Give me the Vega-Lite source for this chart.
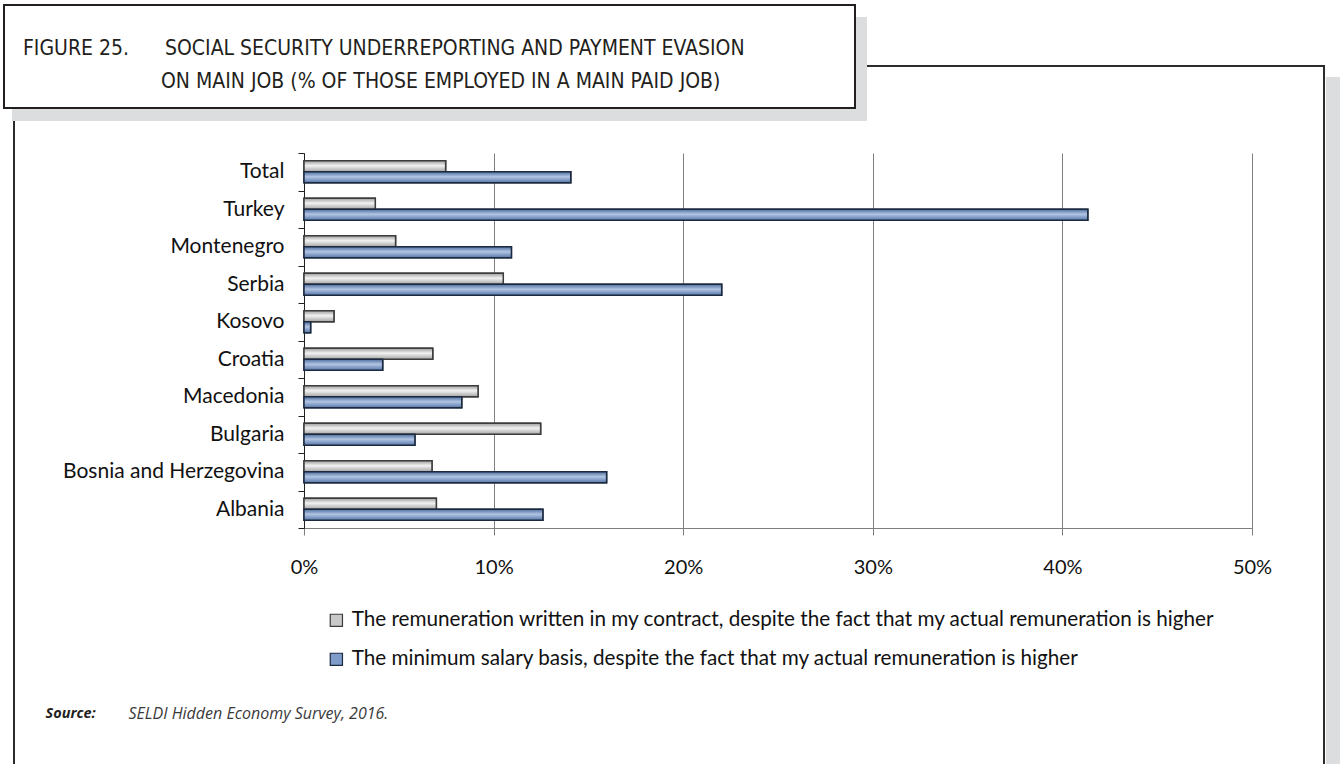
{
  "$schema": "https://vega.github.io/schema/vega-lite/v6.json",
  "width": 948,
  "height": 375,
  "autosize": {"type": "none"},
  "padding": {"left": 304, "top": 153, "right": 88, "bottom": 236},
  "background": "white",
  "title": {
    "text": [
      "FIGURE 25.\u00a0\u00a0\u00a0\u00a0\u00a0\u00a0SOCIAL SECURITY UNDERREPORTING AND PAYMENT EVASION",
      "\u200b\u00a0\u00a0\u00a0\u00a0\u00a0\u00a0\u00a0\u00a0\u00a0\u00a0\u00a0\u00a0\u00a0\u00a0\u00a0\u00a0\u00a0\u00a0\u00a0\u00a0\u00a0\u00a0\u00a0ON MAIN JOB (% OF THOSE EMPLOYED IN A MAIN PAID JOB)"
    ],
    "anchor": "start",
    "frame": "group",
    "dx": -281,
    "offset": -87,
    "lineHeight": 33,
    "font": "Liberation Sans Narrow, DejaVu Sans Condensed, Liberation Sans",
    "fontSize": 21,
    "fontWeight": "normal",
    "color": "#231f20",
    "zindex": 5
  },
  "data": {
    "values": [
      {"country": "Total", "series": "The remuneration written in my contract, despite the fact that my actual remuneration is higher", "value": 7.47},
      {"country": "Total", "series": "The minimum salary basis, despite the fact that my actual remuneration is higher", "value": 14.07},
      {"country": "Turkey", "series": "The remuneration written in my contract, despite the fact that my actual remuneration is higher", "value": 3.76},
      {"country": "Turkey", "series": "The minimum salary basis, despite the fact that my actual remuneration is higher", "value": 41.34},
      {"country": "Montenegro", "series": "The remuneration written in my contract, despite the fact that my actual remuneration is higher", "value": 4.83},
      {"country": "Montenegro", "series": "The minimum salary basis, despite the fact that my actual remuneration is higher", "value": 10.94},
      {"country": "Serbia", "series": "The remuneration written in my contract, despite the fact that my actual remuneration is higher", "value": 10.51},
      {"country": "Serbia", "series": "The minimum salary basis, despite the fact that my actual remuneration is higher", "value": 22.03},
      {"country": "Kosovo", "series": "The remuneration written in my contract, despite the fact that my actual remuneration is higher", "value": 1.58},
      {"country": "Kosovo", "series": "The minimum salary basis, despite the fact that my actual remuneration is higher", "value": 0.35},
      {"country": "Croatia", "series": "The remuneration written in my contract, despite the fact that my actual remuneration is higher", "value": 6.79},
      {"country": "Croatia", "series": "The minimum salary basis, despite the fact that my actual remuneration is higher", "value": 4.15},
      {"country": "Macedonia", "series": "The remuneration written in my contract, despite the fact that my actual remuneration is higher", "value": 9.18},
      {"country": "Macedonia", "series": "The minimum salary basis, despite the fact that my actual remuneration is higher", "value": 8.32},
      {"country": "Bulgaria", "series": "The remuneration written in my contract, despite the fact that my actual remuneration is higher", "value": 12.48},
      {"country": "Bulgaria", "series": "The minimum salary basis, despite the fact that my actual remuneration is higher", "value": 5.85},
      {"country": "Bosnia and Herzegovina", "series": "The remuneration written in my contract, despite the fact that my actual remuneration is higher", "value": 6.75},
      {"country": "Bosnia and Herzegovina", "series": "The minimum salary basis, despite the fact that my actual remuneration is higher", "value": 15.96},
      {"country": "Albania", "series": "The remuneration written in my contract, despite the fact that my actual remuneration is higher", "value": 6.98},
      {"country": "Albania", "series": "The minimum salary basis, despite the fact that my actual remuneration is higher", "value": 12.6}
    ]
  },
  "encoding": {
    "y": {
      "field": "country",
      "type": "nominal",
      "sort": ["Total", "Turkey", "Montenegro", "Serbia", "Kosovo", "Croatia", "Macedonia", "Bulgaria", "Bosnia and Herzegovina", "Albania"],
      "scale": {"paddingInner": 0, "paddingOuter": 0},
      "axis": {
        "title": "SELDI Hidden Economy Survey, 2016.",
        "titleAngle": 0,
        "titleX": -176,
        "titleY": 560,
        "titleAlign": "left",
        "titleBaseline": "middle",
        "titleFont": "Open Sans",
        "titleFontSize": 16,
        "titleFontStyle": "italic",
        "titleFontWeight": "normal",
        "titleColor": "#3a3a3a",
        "tickBand": "extent",
        "tickSize": 6,
        "tickColor": "#231f20",
        "domainColor": "#231f20",
        "labelPadding": 14,
        "labelFont": "Lato",
        "labelFontSize": 21,
        "labelColor": "#111111",
        "labelLimit": 400,
        "grid": false
      }
    },
    "yOffset": {
      "field": "series",
      "type": "nominal",
      "scale": {
        "domain": [
          "The remuneration written in my contract, despite the fact that my actual remuneration is higher",
          "The minimum salary basis, despite the fact that my actual remuneration is higher"
        ],
        "paddingInner": 0,
        "paddingOuter": 0.7
      }
    },
    "x": {
      "field": "value",
      "type": "quantitative",
      "scale": {"domain": [0, 50], "nice": false},
      "axis": {
        "values": [0, 10, 20, 30, 40, 50],
        "labelExpr": "datum.value + '%'",
        "labelFlush": false,
        "title": "Source:",
        "titleX": -259,
        "titleY": 185,
        "titleAlign": "left",
        "titleAnchor": null,
        "titleBaseline": "middle",
        "titleFont": "Open Sans",
        "titleFontSize": 14.5,
        "titleFontStyle": "italic",
        "titleFontWeight": "bold",
        "titleColor": "#231f20",
        "grid": true,
        "gridColor": "#7f7f7f",
        "gridWidth": 1,
        "domainColor": "#7f7f7f",
        "tickColor": "#7f7f7f",
        "tickSize": 7,
        "labelPadding": 22,
        "labelFont": "Lato",
        "labelFontSize": 20,
        "labelColor": "#111111"
      }
    }
  },
  "layer": [
    {
      "mark": {"type": "bar", "strokeWidth": 1.5},
      "encoding": {
        "fill": {
          "field": "series",
          "type": "nominal",
          "scale": {
            "domain": [
              "The remuneration written in my contract, despite the fact that my actual remuneration is higher",
              "The minimum salary basis, despite the fact that my actual remuneration is higher"
            ],
            "range": ["#c9c9c9", "#7f9bc9"]
          },
          "legend": {
            "orient": "none",
            "legendX": 22,
            "legendY": 457,
            "title": null,
            "direction": "vertical",
            "symbolType": "square",
            "symbolSize": 150,
            "symbolStrokeWidth": 1.2,
            "rowPadding": 17,
            "labelFont": "Lato",
            "labelFontSize": 20.7,
            "labelColor": "#111111",
            "labelLimit": 0,
            "labelOffset": 5,
            "padding": 0
          }
        },
        "stroke": {
          "field": "series",
          "type": "nominal",
          "scale": {
            "domain": [
              "The remuneration written in my contract, despite the fact that my actual remuneration is higher",
              "The minimum salary basis, despite the fact that my actual remuneration is higher"
            ],
            "range": ["#3c3c3c", "#1c2a40"]
          }
        }
      }
    },
    {
      "transform": [{"filter": "datum.series === 'The remuneration written in my contract, despite the fact that my actual remuneration is higher'"}],
      "mark": {
        "type": "bar",
        "strokeWidth": 1.5,
        "stroke": "#3c3c3c",
        "fill": {
          "gradient": "linear",
          "x1": 0, "y1": 0, "x2": 0, "y2": 1,
          "stops": [
            {"offset": 0, "color": "#9c9c9c"},
            {"offset": 0.45, "color": "#f2f2f2"},
            {"offset": 1, "color": "#a4a4a4"}
          ]
        }
      }
    },
    {
      "transform": [{"filter": "datum.series === 'The minimum salary basis, despite the fact that my actual remuneration is higher'"}],
      "mark": {
        "type": "bar",
        "strokeWidth": 1.5,
        "stroke": "#1c2a40",
        "fill": {
          "gradient": "linear",
          "x1": 0, "y1": 0, "x2": 0, "y2": 1,
          "stops": [
            {"offset": 0, "color": "#4d6c9c"},
            {"offset": 0.45, "color": "#b2c5e4"},
            {"offset": 1, "color": "#5676a8"}
          ]
        }
      }
    },
    {
      "mark": {"type": "point", "filled": true, "opacity": 0, "size": 0},
      "encoding": {
        "color": {
          "field": "value",
          "type": "quantitative",
          "scale": {"range": ["rgba(255,255,255,0)", "rgba(255,255,255,0)"]},
          "legend": {
            "type": "gradient",
            "orient": "none",
            "direction": "horizontal",
            "legendX": -290,
            "legendY": -87,
            "title": null,
            "values": [],
            "gradientLength": 1310,
            "gradientThickness": 733,
            "gradientOpacity": 1,
            "gradientStrokeColor": "#2b2b2b",
            "gradientStrokeWidth": 2,
            "padding": 0,
            "zindex": 1
          }
        }
      }
    },
    {
      "mark": {"type": "point", "filled": true, "opacity": 0, "size": 0},
      "encoding": {
        "color": {
          "field": "value",
          "type": "quantitative",
          "scale": {"range": ["#dcdddf", "#dcdddf"]},
          "legend": {
            "type": "gradient",
            "orient": "none",
            "direction": "horizontal",
            "legendX": 1022,
            "legendY": -76,
            "title": null,
            "values": [],
            "gradientLength": 14,
            "gradientThickness": 720,
            "gradientOpacity": 1,
            "gradientStrokeWidth": 0,
            "padding": 0,
            "zindex": 1
          }
        }
      }
    },
    {
      "mark": {"type": "point", "filled": true, "opacity": 0, "size": 0},
      "encoding": {
        "color": {
          "field": "value",
          "type": "quantitative",
          "scale": {"range": ["#dcdddf", "#dcdddf"]},
          "legend": {
            "type": "gradient",
            "orient": "none",
            "direction": "horizontal",
            "legendX": -292,
            "legendY": -136,
            "title": null,
            "values": [],
            "gradientLength": 855,
            "gradientThickness": 104,
            "gradientOpacity": 1,
            "gradientStrokeWidth": 0,
            "padding": 0,
            "zindex": 2
          }
        }
      }
    },
    {
      "mark": {"type": "point", "filled": true, "opacity": 0, "size": 0},
      "encoding": {
        "color": {
          "field": "value",
          "type": "quantitative",
          "scale": {"range": ["#ffffff", "#ffffff"]},
          "legend": {
            "type": "gradient",
            "orient": "none",
            "direction": "horizontal",
            "legendX": -300,
            "legendY": -148,
            "title": null,
            "values": [],
            "gradientLength": 851,
            "gradientThickness": 103,
            "gradientOpacity": 1,
            "gradientStrokeColor": "#231f20",
            "gradientStrokeWidth": 2,
            "padding": 0,
            "zindex": 3
          }
        }
      }
    }
  ],
  "resolve": {
    "scale": {"color": "independent"},
    "legend": {"color": "independent"}
  },
  "config": {
    "view": {"stroke": null}
  }
}
